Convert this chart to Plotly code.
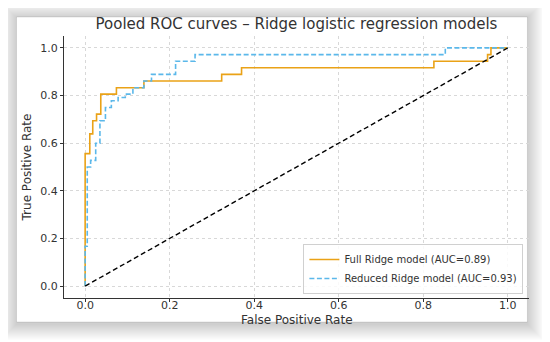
import plotly.graph_objects as go

# ---- data ----
full_fpr = [0.0, 0.0, 0.011, 0.011, 0.018, 0.018, 0.027, 0.027, 0.037, 0.037, 0.074, 0.074,
            0.139, 0.139, 0.323, 0.323, 0.37, 0.37, 0.825, 0.825, 0.952, 0.952, 0.96, 0.96, 1.0]
full_tpr = [0.0, 0.556, 0.556, 0.639, 0.639, 0.694, 0.694, 0.722, 0.722, 0.806, 0.806, 0.833,
            0.833, 0.861, 0.861, 0.889, 0.889, 0.917, 0.917, 0.944, 0.944, 0.972, 0.972, 1.0, 1.0]

red_fpr = [0.0, 0.0, 0.005, 0.005, 0.013, 0.013, 0.025, 0.025, 0.035, 0.035, 0.048, 0.048,
           0.062, 0.062, 0.078, 0.078, 0.095, 0.095, 0.113, 0.113, 0.139, 0.139, 0.157, 0.157,
           0.214, 0.214, 0.26, 0.26, 0.852, 0.852, 1.0]
red_tpr = [0.0, 0.167, 0.167, 0.5, 0.5, 0.528, 0.528, 0.6, 0.6, 0.694, 0.694, 0.75,
           0.75, 0.778, 0.778, 0.792, 0.792, 0.806, 0.806, 0.833, 0.833, 0.861, 0.861, 0.889,
           0.889, 0.944, 0.944, 0.972, 0.972, 1.0, 1.0]

chance = [0.0, 1.0]

series_names = ["Full Ridge model (AUC=0.89)", "Reduced Ridge model (AUC=0.93)"]
tick_vals = [0.0, 0.2, 0.4, 0.6, 0.8, 1.0]
tick_text = ["0.0", "0.2", "0.4", "0.6", "0.8", "1.0"]

title_text = "Pooled ROC curves – Ridge logistic regression models"
x_title = "False Positive Rate"
y_title = "True Positive Rate"

# ---- layout geometry (pixels in the 550x342 window; page body adds an 8px margin) ----
OFF = 8
W, H = 550 - OFF, 342 - OFF
L, R, T, B = 64.4 - OFF, 528.6 - OFF, 36.0 - OFF, 298.0 - OFF
CARD = (17 - OFF, 17 - OFF, 527 - OFF, 322 - OFF)

def px(x):
    return (x - L) / (R - L)

def py(y):
    return (B - y) / (B - T)

FONT = "DejaVu Sans"
TXT = "#333333"

fig = go.Figure()
fig.add_trace(go.Scatter(x=full_fpr, y=full_tpr, mode="lines", name=series_names[0],
                         line=dict(color="#EAA217", width=1.6)))
fig.add_trace(go.Scatter(x=red_fpr, y=red_tpr, mode="lines", name=series_names[1],
                         line=dict(color="#5BB8EA", width=1.6, dash="5px,2.5px")))
fig.add_trace(go.Scatter(x=chance, y=chance, mode="lines", showlegend=False,
                         line=dict(color="black", width=1.4, dash="5px,3px")))

shapes = []
for d in range(16, 0, -1):
    shapes.append(dict(type="rect", xref="paper", yref="paper",
                       x0=px(CARD[0] - d), x1=px(CARD[2] + d),
                       y0=py(CARD[3] + d + 2), y1=py(CARD[1] - d + 1),
                       fillcolor="rgba(0,0,0,0.012)", line=dict(width=0), layer="below"))
shapes.append(dict(type="rect", xref="paper", yref="paper",
                   x0=px(CARD[0]), x1=px(CARD[2]), y0=py(CARD[3]), y1=py(CARD[1]),
                   fillcolor="white", line=dict(color="rgba(0,0,0,0.10)", width=1), layer="below"))

axis_common = dict(
    range=[-0.05, 1.05], tickvals=tick_vals, ticktext=tick_text,
    showline=True, linecolor=TXT, linewidth=1, mirror=False,
    ticks="outside", ticklen=3, tickwidth=0.8, tickcolor=TXT,
    showgrid=True, gridcolor="#d8d8d8", griddash="dot", gridwidth=0.8,
    zeroline=False, tickfont=dict(family=FONT, size=11, color=TXT),
)

fig.update_layout(
    width=W, height=H,
    margin=dict(l=L, r=W - R, t=T, b=H - B, autoexpand=False),
    paper_bgcolor="white", plot_bgcolor="rgba(0,0,0,0)",
    shapes=shapes,
    title=dict(text=title_text, x=0.5, xref="paper", xanchor="center",
               y=1 - (24 - OFF) / H, yref="container", yanchor="middle",
               font=dict(family=FONT, size=15, color=TXT)),
    xaxis=dict(**axis_common, ticklabelstandoff=-6),
    yaxis=dict(**axis_common, ticklabelstandoff=0,
               title=dict(text=y_title, standoff=6,
                          font=dict(family=FONT, size=12, color=TXT))),
    annotations=[dict(text=x_title, xref="paper", yref="paper", x=0.5, y=py(320 - OFF),
                      xanchor="center", yanchor="middle", showarrow=False,
                      font=dict(family=FONT, size=12, color=TXT))],
    legend=dict(x=px(523 - OFF), xanchor="right", y=py(294 - OFF), yanchor="bottom",
                bgcolor="rgba(255,255,255,0.85)", bordercolor="#d0d0d0", borderwidth=1,
                font=dict(family=FONT, size=10, color=TXT), tracegroupgap=0),
    showlegend=True,
)

fig.write_html("out.html")
